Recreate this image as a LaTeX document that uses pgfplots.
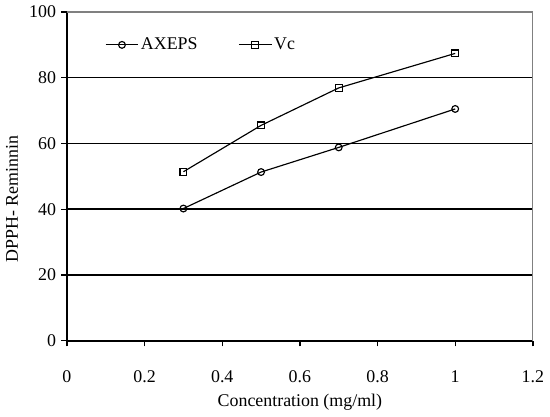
\documentclass[border=0pt]{standalone}
\usepackage{fontspec}
\setmainfont{Liberation Serif}
\usepackage{pgfplots}
\pgfplotsset{compat=1.18}

\begin{document}
\fontsize{18.5}{22}\selectfont
\begin{tikzpicture}
\begin{axis}[
    scale only axis,
    width=482pt, height=340pt,
    xmin=0, xmax=1.2,
    ymin=0, ymax=100,
    xtick={0,0.2,...,1.2},
    ytick={0,20,...,100},
    xticklabels={0,0.2,0.4,0.6,0.8,1,1.2},
    axis lines=left,
    axis line style={-, line width=1.8pt, black},
    tick align=outside,
    major tick length=6pt,
    tick style={line width=1.4pt, black},
    xticklabel style={yshift=-19pt},
    yticklabel style={xshift=1pt},
    /pgf/number format/assume math mode=true,
    extra y ticks={20,40,60,80},
    extra y tick labels={},
    extra y tick style={grid=major, major tick length=0pt},
    grid style={line width=1.5pt, black},
    xlabel={Concentration (mg/ml)},
    xlabel style={yshift=1pt},
    ylabel={DPPH- Reminnin},
    ylabel style={at={(ticklabel cs:0.43)}, yshift=-7pt},
    legend columns=2,
    legend style={at={(0.075,0.9)}, anchor=west, draw=none, fill=none,
        font=\fontsize{18.5}{22}\selectfont,
        /tikz/every even column/.append style={column sep=40pt}},
    legend image code/.code={
        \draw[#1] (0pt,0pt) -- (34pt,0pt);
        \draw[#1, only marks] plot coordinates {(17pt,0pt)};
    },
]
\draw[gray, line width=1.2pt] (rel axis cs:0,1) -- (rel axis cs:1,1) -- (rel axis cs:1,0);

\addplot[black, line width=1.2pt, mark=o, mark size=3.5pt, mark options={fill=white, line width=1.2pt}]
    coordinates {(0.3,40.2) (0.5,51.3) (0.7,58.8) (1.0,70.5)};
\addlegendentry{AXEPS}

\addplot[black, line width=1.2pt, mark=square, mark size=3.5pt, mark options={fill=white, line width=1.2pt}]
    coordinates {(0.3,51.4) (0.5,65.5) (0.7,76.9) (1.0,87.4)};
\addlegendentry{Vc}
\end{axis}
\end{tikzpicture}
\end{document}
